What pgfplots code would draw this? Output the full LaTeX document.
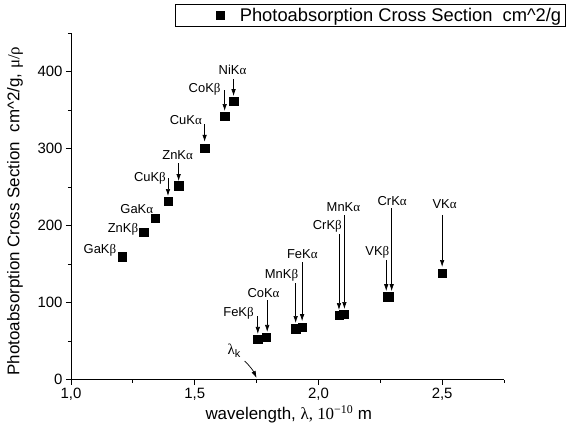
\documentclass[border=0pt]{standalone}
\usepackage{fontspec}
\setmainfont{Liberation Sans}
\newfontfamily\grk{Liberation Serif}
\usepackage{pgfplots}
\pgfplotsset{compat=1.18}
\usetikzlibrary{arrows.meta}

\newcommand{\ka}{K{\grk α}}
\newcommand{\kb}{K{\grk β}}

\pgfplotstableread{
x y
1.208 160
1.294 192
1.340 210
1.392 232
1.435 252
1.540 301
1.621 342
1.657 362
1.755 53
1.789 55
1.908 66
1.934 68
2.083 84
2.102 85
2.277 108
2.286 108
2.500 138
}\datatable

\begin{document}
\begin{tikzpicture}
\path[use as bounding box] (-71bp,-61.3bp) rectangle (497bp,379.7bp);
\begin{axis}[
  scale only axis, width=433bp, height=346.4bp,
  at={(0,0)}, anchor=south west,
  xmin=1, xmax=2.75, ymin=0, ymax=450,
  axis x line*=bottom, axis y line*=left,
  axis line style={line width=0.8pt},
  xtick={1,1.5,2,2.5}, minor xtick={1.25,1.75,2.25,2.75},
  ytick={0,100,200,300,400}, minor ytick={50,150,250,350,450},
  tick align=outside, major tick length=5bp, minor tick length=3bp,
  tick style={black, line width=0.8pt},
  tick label style={font=\fontsize{15}{15}\selectfont},
  x tick label style={/pgf/number format/.cd, fixed, fixed zerofill, precision=1, use comma, assume math mode=true},
  y tick label style={/pgf/number format/.cd, assume math mode=true},
  xlabel={wavelength, {\grk λ, 10\textsuperscript{−10}} m},
  ylabel={Photoabsorption Cross Section\ \ cm\textasciicircum2/g, {\grk μ/ρ}},
  label style={font=\fontsize{17}{17}\selectfont},
  xlabel style={at={(axis description cs:0.503,-0.101)}, anchor=center},
  ylabel style={at={(axis description cs:-0.129,0.487)}, anchor=center},
  legend style={at={(axis description cs:0.240,1.0846)}, anchor=north west, draw=black, line width=0.6pt,
    font=\fontsize{18.4}{18.4}\selectfont, inner xsep=2bp, inner ysep=1.5bp},
  legend image code/.code={\path (0bp,0bp) (60bp,0bp); \draw[#1] plot coordinates {(43bp,0bp)};},
  clip=false,
]
\addplot[only marks, mark=square*, mark size=4.2bp, black] table[x=x,y=y] {\datatable};
\addlegendentry{Photoabsorption Cross Section\ \ cm\textasciicircum2/g}

\begin{scope}[font=\fontsize{13}{13}\selectfont]
\node at (axis cs:1.653,402) {Ni\ka};
\node at (axis cs:1.540,377.5) {Co\kb};
\node at (axis cs:1.464,337) {Cu\ka};
\node at (axis cs:1.431,291.8) {Zn\ka};
\node at (axis cs:1.319,262) {Cu\kb};
\node at (axis cs:1.266,221.7) {Ga\ka};
\node at (axis cs:1.210,195.7) {Zn\kb};
\node at (axis cs:1.117,168.4) {Ga\kb};
\node at (axis cs:1.677,86.6) {Fe\kb};
\node at (axis cs:1.778,113) {Co\ka};
\node at (axis cs:1.851,136) {Mn\kb};
\node at (axis cs:1.935,163) {Fe\ka};
\node at (axis cs:2.036,198.7) {Cr\kb};
\node at (axis cs:2.101,224) {Mn\ka};
\node at (axis cs:2.298,232) {Cr\ka};
\node at (axis cs:2.238,165.8) {V\kb};
\node at (axis cs:2.510,228) {V\ka};
\end{scope}
\node[font=\fontsize{15}{15}\selectfont\grk] at (axis cs:1.660,37) {λ\textsubscript{\fontsize{11}{11}\selectfont\rmfamily k}};

\begin{scope}[-{Latex[length=7bp,width=4.5bp]}, line width=0.7pt]
\draw (axis cs:1.657,390.5) -- (axis cs:1.657,368.4);
\draw (axis cs:1.621,376) -- (axis cs:1.621,349);
\draw (axis cs:1.540,332) -- (axis cs:1.540,309);
\draw (axis cs:1.435,281.4) -- (axis cs:1.435,258);
\draw (axis cs:1.392,262) -- (axis cs:1.392,238.6);
\draw (axis cs:1.755,82.7) -- (axis cs:1.755,59.4);
\draw (axis cs:1.793,103.5) -- (axis cs:1.793,62);
\draw (axis cs:1.908,125.6) -- (axis cs:1.908,73.6);
\draw (axis cs:1.934,152.9) -- (axis cs:1.934,76);
\draw (axis cs:2.083,189) -- (axis cs:2.083,90.5);
\draw (axis cs:2.105,213.9) -- (axis cs:2.105,91.8);
\draw (axis cs:2.296,223) -- (axis cs:2.296,115);
\draw (axis cs:2.274,155.5) -- (axis cs:2.274,115);
\draw (axis cs:2.500,214) -- (axis cs:2.500,146.4);
\draw (axis cs:1.702,24.3) to[bend left=10] (axis cs:1.750,2.2);
\end{scope}
\end{axis}
\end{tikzpicture}
\end{document}
